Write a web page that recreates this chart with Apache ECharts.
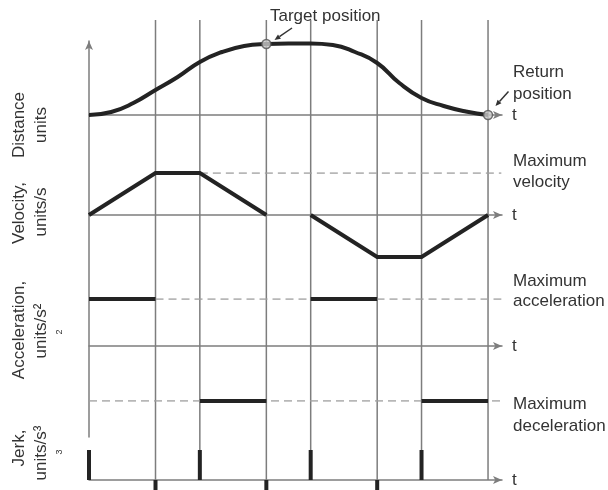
<!DOCTYPE html>
<html><head><meta charset="utf-8">
<script src="https://cdn.jsdelivr.net/npm/echarts@6/dist/echarts.min.js"></script>
<style>html,body{margin:0;padding:0;background:#fff}#c{width:608px;height:490px}</style>
</head><body><div id="c"></div>
<script>
// ---- data ----
const markTimes = [0, 3, 5, 8, 10, 13, 15, 18];
const distTimes = [0, 1, 2, 3, 4, 5, 6, 7, 8, 9, 10, 11, 12, 13, 14, 15, 16, 17, 18];
const distValues = [0, 3, 12, 25, 38, 53, 63, 69, 71, 71.5, 71.5, 70, 63, 52, 32, 17, 9, 3.5, 0];
const velOutTimes = [0, 3, 5, 8];
const velOutValues = [0, 1, 1, 0];
const velBackTimes = [10, 13, 15, 18];
const velBackValues = [0, -1, -1, 0];
const accStart = [0, 5, 10, 15];
const accEnd = [3, 8, 13, 18];
const accLevel = [1, -1.17, 1, -1.17];
const jerkTimes = [0, 3, 5, 8, 10, 13, 15];
const jerkValues = [1, -1, 1, -1, 1, -1, 1];
const positionTimes = [8, 18];
const positionValues = [71, 0];
const maxVelocity = 1, maxAcceleration = 1, maxDeceleration = -1.17;
const dashStart = { vel: 5, acc: 3, dec: 0 };
const dashEnd = 18.6;
const xMax = 18.63;

const THICK = '#232323', GRID = '#7d7d7d', DASH = '#a0a0a0', TXT = '#333';
const FONT = '"Liberation Sans", Arial, sans-serif';

const chart = echarts.init(document.getElementById('c'));
const L = 89, R = 106;
const grids = [
  { left: L, right: R, top: 20, bottom: 375 },   // distance
  { left: L, right: R, top: 173, bottom: 233 },  // velocity
  { left: L, right: R, top: 299, bottom: 89 },   // acceleration
  { left: L, right: R, top: 450, bottom: 10 },   // jerk
  { left: L, right: R, top: 20, bottom: 10 },    // vertical time lines
  { left: L, right: R, top: 41, bottom: 53 }     // main vertical axis
];
const yRanges = [[0, 95], [-1, 1], [-1.17, 1], [0, 1], [0, 1], [0, 1]];
const showX = [true, true, true, true, false, false];

const xAxes = grids.map((g, i) => ({
  gridIndex: i, type: 'value', min: 0, max: xMax,
  show: showX[i],
  name: 't', nameLocation: 'end', nameGap: 10,
  nameTextStyle: { fontSize: 17, color: TXT, fontFamily: FONT, verticalAlign: 'middle', align: 'left' },
  axisLine: { show: true, onZero: true, symbol: ['none', 'arrow'], symbolSize: [6, 9],
    lineStyle: { color: GRID, width: 1.5 } },
  axisTick: { show: false }, axisLabel: { show: false }, splitLine: { show: false }
}));
const yAxes = grids.map((g, i) => ({
  gridIndex: i, type: 'value', min: yRanges[i][0], max: yRanges[i][1],
  show: i === 5,
  axisLine: { show: i === 5, symbol: ['none', 'arrow'], symbolSize: [6, 9],
    lineStyle: { color: GRID, width: 1.5 } },
  axisTick: { show: false }, axisLabel: { show: false }, splitLine: { show: false }
}));

const series = [];
// vertical time lines
markTimes.slice(1).forEach(t => series.push({
  type: 'line', xAxisIndex: 4, yAxisIndex: 4, data: [[t, 0], [t, 1]],
  symbol: 'none', silent: true, z: 1, lineStyle: { color: GRID, width: 1.5 }
}));
// dashed limit lines
function dashed(ax, y, x0) {
  series.push({ type: 'line', xAxisIndex: ax, yAxisIndex: ax, data: [[x0, y], [dashEnd, y]],
    symbol: 'none', z: 2, lineStyle: { color: DASH, width: 1.5, type: [8, 5] } });
}
dashed(1, maxVelocity, dashStart.vel);
dashed(2, maxAcceleration, dashStart.acc);
dashed(2, maxDeceleration, dashStart.dec);
// distance
series.push({ type: 'line', xAxisIndex: 0, yAxisIndex: 0, smooth: 0.5,
  data: distTimes.map((t, i) => [t, distValues[i]]), symbol: 'none', z: 3,
  lineStyle: { color: THICK, width: 4 } });
series.push({ type: 'scatter', xAxisIndex: 0, yAxisIndex: 0, clip: false, z: 5,
  data: positionTimes.map((t, i) => [t, positionValues[i]]), symbolSize: 9,
  itemStyle: { color: '#c9c9c9', borderColor: '#555', borderWidth: 1.5 } });
// velocity
[[velOutTimes, velOutValues], [velBackTimes, velBackValues]].forEach(([ts, vs]) => series.push({
  type: 'line', xAxisIndex: 1, yAxisIndex: 1,
  data: ts.map((t, i) => [t, vs[i]]), symbol: 'none', z: 3,
  lineStyle: { color: THICK, width: 4, join: 'miter' } }));
// acceleration
accStart.forEach((s, i) => series.push({ type: 'line', xAxisIndex: 2, yAxisIndex: 2,
  data: [[s, accLevel[i]], [accEnd[i], accLevel[i]]], symbol: 'none', z: 3,
  lineStyle: { color: THICK, width: 4 } }));
// jerk
jerkTimes.forEach((t, i) => series.push({ type: 'line', xAxisIndex: 3, yAxisIndex: 3, clip: false,
  data: [[t, 0], [t, jerkValues[i]]], symbol: 'none', z: 3,
  lineStyle: { color: THICK, width: 4 } }));

function txt(s, x, y) {
  return { type: 'text', x: x, y: y, silent: true,
    style: { text: s, fontSize: 17, fontFamily: FONT, fill: TXT, align: 'left', verticalAlign: 'middle' } };
}
function vtxt(s, x, y, size) {
  return { type: 'text', x: x, y: y, rotation: Math.PI / 2, silent: true,
    style: { text: s, fontSize: size || 17, fontFamily: FONT, fill: TXT, align: 'center', verticalAlign: 'middle' } };
}
function arrow(x1, y1, x2, y2) {
  const dx = x2 - x1, dy = y2 - y1, len = Math.hypot(dx, dy), ux = dx / len, uy = dy / len;
  const hl = 6, hw = 2.6, bx = x2 - ux * hl, by = y2 - uy * hl;
  return [
    { type: 'line', silent: true, shape: { x1: x1, y1: y1, x2: bx, y2: by }, style: { stroke: '#333', lineWidth: 1.5 } },
    { type: 'polygon', silent: true, shape: { points: [[x2, y2], [bx - uy * hw, by + ux * hw], [bx + uy * hw, by - ux * hw]] }, style: { fill: '#333' } }
  ];
}

const graphic = [
  txt('Target position', 270, 16),
  txt('Return', 513, 72), txt('position', 513, 94),
  txt('Maximum', 513, 161), txt('velocity', 513, 182),
  txt('Maximum', 513, 281), txt('acceleration', 513, 301),
  txt('Maximum', 513, 404), txt('deceleration', 513, 426),
  vtxt('Distance', 19, 125), vtxt('units', 41, 125),
  vtxt('Velocity,', 19, 213), vtxt('units/s', 41, 212),
  vtxt('Acceleration,', 19, 330), vtxt('units/s²', 41, 331), vtxt('2', 60, 332, 9),
  vtxt('Jerk,', 19, 448), vtxt('units/s³', 41, 453), vtxt('3', 60, 452, 9)
].concat(arrow(292, 28, 274.5, 40), arrow(508.5, 91.5, 495.5, 106));

chart.setOption({
  backgroundColor: '#fff', animation: false,
  grid: grids, xAxis: xAxes, yAxis: yAxes, series: series, graphic: graphic
});
</script></body></html>
